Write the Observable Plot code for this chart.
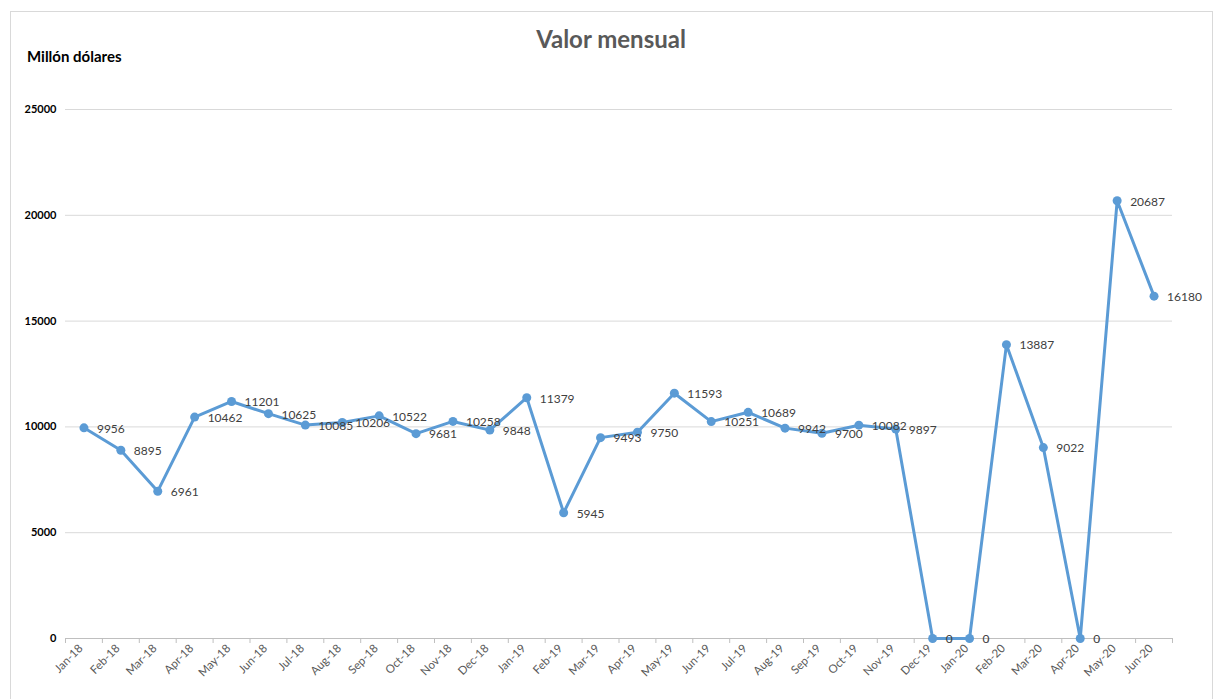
<!DOCTYPE html>
<html>
<head>
<meta charset="utf-8">
<script src="https://cdn.jsdelivr.net/npm/d3@7"></script>
<script src="https://cdn.jsdelivr.net/npm/@observablehq/plot@0.6"></script>
<style>
  html, body { margin: 0; padding: 0; background: #fff; }
  #wrap { position: relative; width: 1216px; height: 699px; overflow: hidden; font-family: Lato, "Open Sans", sans-serif; }
  #frame { position: absolute; left: 10px; top: 11px; width: 1203px; height: 720px; border: 1px solid #d9d9d9; box-sizing: border-box; }
  #title { position: absolute; left: 0; width: 1222px; top: 24px; text-align: center; font-size: 24px; font-weight: bold; color: #595959; }
  #ylabel { position: absolute; left: 27px; top: 47px; font-size: 15px; font-weight: bold; color: #000; }
  #chart { position: absolute; left: 0; top: 0; }
</style>
</head>
<body>
<div id="wrap">
  <div id="frame"></div>
  <div id="title">Valor mensual</div>
  <div id="ylabel">Millón dólares</div>
  <div id="chart"></div>
</div>
<script>
const months = ["Jan-18","Feb-18","Mar-18","Apr-18","May-18","Jun-18","Jul-18","Aug-18","Sep-18","Oct-18","Nov-18","Dec-18",
  "Jan-19","Feb-19","Mar-19","Apr-19","May-19","Jun-19","Jul-19","Aug-19","Sep-19","Oct-19","Nov-19","Dec-19",
  "Jan-20","Feb-20","Mar-20","Apr-20","May-20","Jun-20"];
const values = [9956, 8895, 6961, 10462, 11201, 10625, 10085, 10206, 10522, 9681, 10258, 9848,
  11379, 5945, 9493, 9750, 11593, 10251, 10689, 9942, 9700, 10082, 9897, 0,
  0, 13887, 9022, 0, 20687, 16180];
const yTicks = [0, 5000, 10000, 15000, 20000, 25000];

const data = months.map((m, i) => ({i, month: m, value: values[i]}));
const idx = months.map((m, i) => i);
const bounds = [...idx.map(i => i - 0.5), months.length - 0.5];

const chart = Plot.plot({
  width: 1216,
  height: 699,
  marginLeft: 65,
  marginRight: 44,
  marginTop: 109,
  marginBottom: 61,
  style: { fontFamily: "Lato, 'Open Sans', sans-serif", background: "transparent" },
  x: { type: "linear", domain: [-0.5, months.length - 0.5] },
  y: { domain: [0, 25000] },
  marks: [
    Plot.gridY(yTicks, { stroke: "#d9d9d9", strokeOpacity: 1, strokeWidth: 1 }),
    Plot.axisY(yTicks, { tickSize: 0, tickPadding: 9, fontSize: 11, fontWeight: "bold", fill: "#000", label: null, tickFormat: d => String(d) }),
    Plot.ruleY([0], { stroke: "#bfbfbf", strokeWidth: 1 }),
    Plot.axisX(bounds, { tickSize: 5, stroke: "#bfbfbf", tickFormat: () => "", label: null }),
    Plot.axisX(idx, { tickSize: 0, tickPadding: 8, tickRotate: -45, tickFormat: i => months[i], fontSize: 11.5, fill: "#595959", label: null, dx: -3 }),
    Plot.line(data, { x: "i", y: "value", stroke: "#5b9bd5", strokeWidth: 3 }),
    Plot.dot(data, { x: "i", y: "value", r: 4.5, fill: "#5b9bd5", stroke: "none" }),
    Plot.text(data, { x: "i", y: "value", text: d => String(d.value), textAnchor: "start", dx: 13, dy: 1, fontSize: 12, fill: "#404040" })
  ]
});
document.getElementById("chart").appendChild(chart);
</script>
</body>
</html>
